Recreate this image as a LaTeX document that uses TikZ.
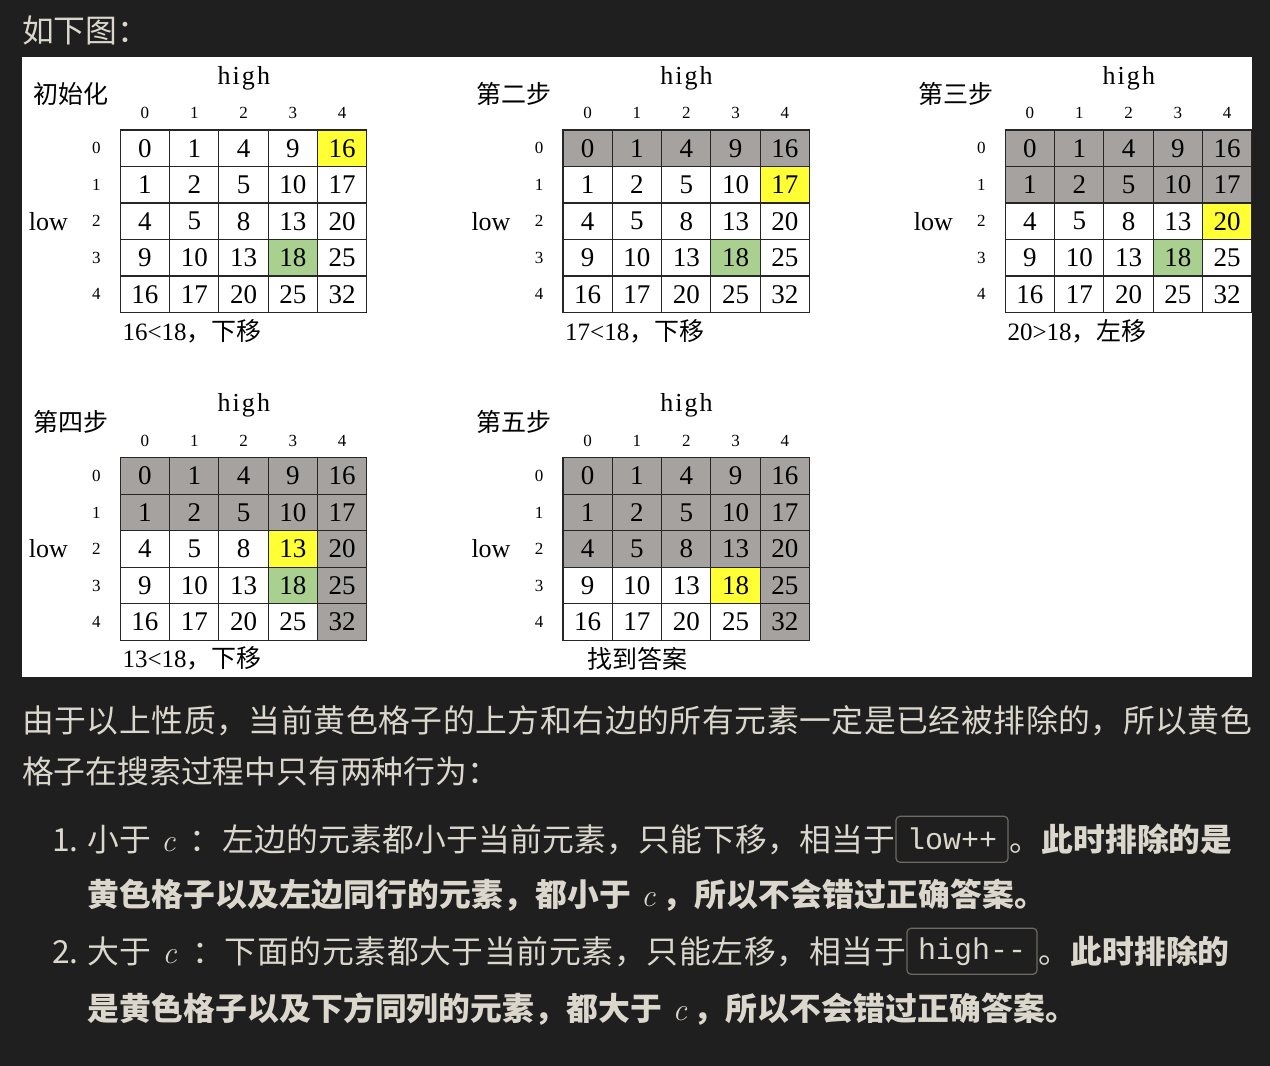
\documentclass[tikz,border=0pt]{standalone}
\usepackage{fontspec}
\setmainfont{Noto Sans CJK SC}
\newfontfamily\numserif{Liberation Serif}
\newfontfamily\spacedserif[LetterSpace=8]{Liberation Serif}
\newfontfamily\codemono{Liberation Mono}
\newfontfamily\lmroman{Latin Modern Roman}
\usetikzlibrary{positioning}
\newcommand\setfs[1]{\fontsize{#1}{#1}\selectfont}
\newcommand\varc{{\lmroman\mdseries\itshape c}}
\newcommand\gapsmall{\hspace{0.3em}}
\newcommand\gapcolon{\hspace{0.44em}}
\newcommand\gaptiny{\hspace{0.2em}}
% glue after every token, so a [s] box spreads the characters evenly
\def\spreadout#1{\spreadstep#1\relax}
\def\spreadstep#1{\ifx#1\relax\else#1\hskip0pt plus 1fil\relax\expandafter\spreadstep\fi}
\definecolor{bgdark}{HTML}{1F1F1F}
\definecolor{txt}{HTML}{DBD7CD}
\definecolor{cellgray}{HTML}{A5A2A0}
\definecolor{cellyellow}{HTML}{FFFF33}
\definecolor{cellgreen}{HTML}{A9D08E}
\definecolor{boxgray}{HTML}{6E6A63}
\tikzset{
  cell/.style={draw=black!85, line width=1.1pt, minimum width=49.3pt, minimum height=36.5pt, inner sep=0pt, font=\numserif\setfs{27}},
  idx/.style={font=\numserif\setfs{17}, inner sep=0pt},
  axis/.style={font=\numserif\setfs{26}, inner sep=0pt},
  steptitle/.style={font=\setfs{25}, inner sep=0pt},
  caption/.style={font=\setfs{25}, inner sep=0pt, anchor=west},
  body/.style={text=txt, font=\setfs{31.8}, inner sep=0pt, anchor=base west},
  codebox/.style={draw=boxgray, line width=1.2pt, rounded corners=4pt, text=txt, font=\codemono\setfs{30}, inner xsep=11pt, minimum height=46pt}
}
\begin{document}
\begin{tikzpicture}[x=1pt,y=-1pt]
\fill[bgdark] (0,0) rectangle (1270,1066);
\node[body] (intro) at (22,42) {如下图：};
\fill[white] (22,57) rectangle (1252,677);
% five steps of the search
\foreach \pnl/\gx/\gy/\ttl/\capx/\capt/\ngray/\gcol/\yr/\yc in {
  1/120.3/130/初始化/2/{{\numserif 16<18}，下移}/0/5/0/4,
  2/563/130/第二步/2/{{\numserif 17<18}，下移}/1/5/1/4,
  3/1005.3/130/第三步/2/{{\numserif 20>18}，左移}/2/5/2/4,
  4/120.3/457.7/第四步/2/{{\numserif 13<18}，下移}/2/4/2/3,
  5/563/457.7/第五步/24/{找到答案}/3/4/3/3}
{
  \foreach \row/\vals in {0/{0,1,4,9,16},1/{1,2,5,10,17},2/{4,5,8,13,20},3/{9,10,13,18,25},4/{16,17,20,25,32}}
    \foreach \v [count=\col from 0] in \vals {
      \def\cellcol{white}
      \ifnum\row<\ngray \def\cellcol{cellgray}\fi
      \ifnum\col<\gcol \else \def\cellcol{cellgray}\fi
      \ifnum\row=3 \ifnum\col=3 \def\cellcol{cellgreen}\fi\fi
      \ifnum\row=\yr \ifnum\col=\yc \def\cellcol{cellyellow}\fi\fi
      \node[cell, fill=\cellcol] (p\pnl-\row-\col) at ({\gx+24.65+49.3*\col},{\gy+18.25+36.5*\row}) {\v};
    }
  \foreach \k in {0,...,4} {
    \node[idx] (p\pnl-col\k) at ({\gx+24.65+49.3*\k},{\gy-17}) {\k};
    \node[idx] (p\pnl-row\k) at ({\gx-24},{\gy+18.25+36.5*\k}) {\k};
  }
  \node[axis, font=\spacedserif\setfs{26}] (p\pnl-high) at ({\gx+123.5},{\gy-52}) {high};
  \node[axis] (p\pnl-low) at ({\gx-72},{\gy+91.25}) {low};
  \node[steptitle] (p\pnl-title) at ({\gx-49},{\gy-36}) {\ttl};
  \node[caption] (p\pnl-caption) at ({\gx+\capx},{\gy+201}) {\capt};
}
\node[body] (para1) at (22,732) {\makebox[1230pt][s]{\spreadout{由于以上性质，当前黄色格子的上方和右边的所有元素一定是已经被排除的，所以黄色}\unskip}};
\node[body] (para2) at (22,783) {格子在搜索过程中只有两种行为：};
\node[body] (num1) at (52,851) {1.};
\node[body] (lead1) at (87,851) {\makebox[808pt][s]{\spreadout{小于\gapsmall\varc\gapcolon：左边的元素都小于当前元素，只能下移，相当于}\unskip}};
\node[codebox, right=0pt of lead1] (code1) {low++};
\node[body, right=1pt of code1] (tail1) {。\textbf{此时排除的是}};
\node[body] (lead1b) at (87,906) {\textbf{\makebox[959pt][s]{\spreadout{黄色格子以及左边同行的元素，都小于\gapsmall\varc\gaptiny，所以不会错过正确答案。}\unskip}}};
\node[body] (num2) at (52,963) {2.};
\node[body] (lead2) at (87,963) {\makebox[819pt][s]{\spreadout{大于\gapsmall\varc\gapcolon：下面的元素都大于当前元素，只能左移，相当于}\unskip}};
\node[codebox, right=0pt of lead2] (code2) {high-{}-};
\node[body, right=1pt of code2] (tail2) {。\textbf{此时排除的}};
\node[body] (lead2b) at (87,1020) {\textbf{\makebox[990pt][s]{\spreadout{是黄色格子以及下方同列的元素，都大于\gapsmall\varc\gaptiny，所以不会错过正确答案。}\unskip}}};
\end{tikzpicture}
\end{document}
